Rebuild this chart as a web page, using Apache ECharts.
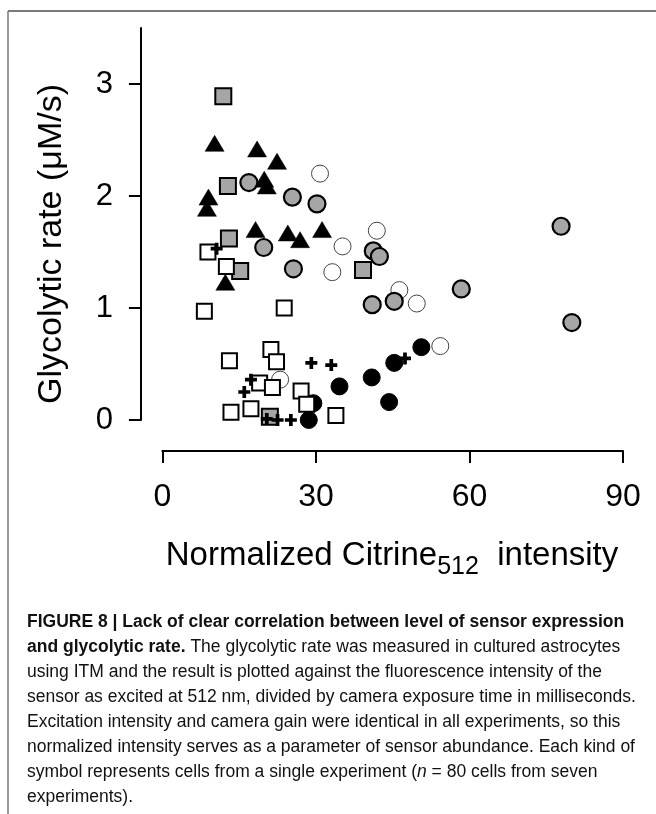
<!DOCTYPE html>
<html>
<head>
<meta charset="utf-8">
<script src="https://cdn.jsdelivr.net/npm/echarts@6/dist/echarts.min.js"></script>
<style>
html,body{margin:0;padding:0;background:#fff;}
#chart{width:656px;height:814px;}
</style>
</head>
<body>
<div id="chart"></div>
<script>
// ---- data (x: normalized Citrine512 intensity, y: glycolytic rate µM/s) ----
const xTicks = [0, 30, 60, 90];
const yTicks = [0, 1, 2, 3];
const graySquares = [[11.9,2.89],[12.8,2.09],[13.0,1.62],[15.2,1.33],[39.2,1.34],[21.0,0.03]];
const blackTriangles = [[10.2,2.47],[18.5,2.42],[22.4,2.31],[19.9,2.15],[20.4,2.09],[9.0,1.99],[8.7,1.89],[18.2,1.70],[24.5,1.67],[26.9,1.61],[31.2,1.70],[12.3,1.23]];
const grayCircles = [[16.9,2.12],[25.4,1.99],[30.2,1.93],[19.8,1.54],[25.6,1.35],[41.2,1.51],[42.4,1.46],[77.9,1.73],[58.4,1.17],[41.0,1.03],[45.3,1.06],[80.0,0.87]];
const openCircles = [[30.8,2.20],[35.2,1.55],[41.9,1.69],[33.2,1.32],[46.3,1.16],[49.7,1.04],[54.3,0.66],[23.0,0.36]];
const openSquares = [[8.9,1.50],[12.5,1.37],[8.2,0.97],[23.8,1.00],[13.1,0.53],[21.2,0.63],[22.3,0.52],[19.0,0.33],[21.5,0.29],[27.1,0.26],[28.2,0.14],[13.4,0.07],[17.3,0.10],[33.9,0.04]];
const pluses = [[10.6,1.53],[29.1,0.51],[33.0,0.49],[17.3,0.36],[16.0,0.25],[47.4,0.55],[20.4,0.01],[22.5,0.0],[25.1,0.0]];
const blackCircles = [[50.6,0.65],[45.3,0.51],[40.9,0.38],[34.6,0.30],[44.3,0.16],[29.5,0.15],[28.6,0.0]];

const yTitle = 'Glycolytic rate (\u03BCM/s)';
const captionLines = [
  '{b|FIGURE 8 | Lack of clear correlation between level of sensor expression}',
  '{b|and glycolytic rate.}{r| The glycolytic rate was measured in cultured astrocytes}',
  '{r|using ITM and the result is plotted against the fluorescence intensity of the}',
  '{r|sensor as excited at 512 nm, divided by camera exposure time in milliseconds.}',
  '{r|Excitation intensity and camera gain were identical in all experiments, so this}',
  '{r|normalized intensity serves as a parameter of sensor abundance. Each kind of}',
  '{r|symbol represents cells from a single experiment (}{i|n}{r| = 80 cells from seven}',
  '{r|experiments).}'
];

const FONT = '"Liberation Sans", Arial, Helvetica, sans-serif';
const chart = echarts.init(document.getElementById('chart'), null, {renderer: 'canvas'});

const plusPath = 'path://M4.5,0H8.5V4.5H13V8.5H8.5V13H4.5V8.5H0V4.5H4.5Z';
const GRAY = '#a6a6a6';

function sc(name, data, symbol, size, style, z) {
  return {
    type: 'scatter', name: name, data: data, symbol: symbol, symbolSize: size,
    itemStyle: Object.assign({opacity: 1}, style), z: z, silent: true, animation: false
  };
}

const CAP = 17.5;
const captionGraphics = captionLines.map((t, i) => ({
  type: 'text', left: 27, top: 629 + i * 25 - 16,
  style: {
    text: t,
    rich: {
      b: {fontFamily: FONT, fontSize: CAP, fontWeight: 'bold', fill: '#111'},
      r: {fontFamily: FONT, fontSize: CAP, fill: '#111'},
      i: {fontFamily: FONT, fontSize: CAP, fontStyle: 'italic', fill: '#111'}
    }
  }
}));

const option = {
  backgroundColor: '#ffffff',
  animation: false,
  grid: {left: 162.4, right: 33, top: 28, bottom: 394, containLabel: false},
  xAxis: {
    type: 'value', min: 0, max: 90, interval: 30,
    offset: 31,
    axisLine: {show: true, onZero: false, lineStyle: {color: '#000', width: 2}},
    axisTick: {show: true, length: 12, lineStyle: {color: '#000', width: 2}, customValues: xTicks},
    axisLabel: {margin: 30, fontFamily: FONT, fontSize: 32, color: '#000', customValues: xTicks},
    splitLine: {show: false}
  },
  yAxis: {
    type: 'value', min: 0, max: 3.5, interval: 1,
    offset: 21.5,
    axisLine: {show: true, onZero: false, lineStyle: {color: '#000', width: 2}},
    axisTick: {show: true, length: 12, lineStyle: {color: '#000', width: 2}, customValues: yTicks},
    axisLabel: {margin: 28, fontFamily: FONT, fontSize: 31, color: '#000', customValues: yTicks},
    splitLine: {show: false}
  },
  series: [
    sc('open circles', openCircles, 'circle', 17, {color: '#fff', borderColor: '#444', borderWidth: 1}, 2),
    sc('gray circles', grayCircles, 'circle', 17, {color: GRAY, borderColor: '#000', borderWidth: 2.2}, 3),
    sc('black circles', blackCircles, 'circle', 17, {color: '#000', borderColor: '#000', borderWidth: 1}, 4),
    sc('gray squares', graySquares, 'rect', 16, {color: GRAY, borderColor: '#000', borderWidth: 2}, 5),
    sc('black triangles', blackTriangles, 'triangle', [19, 16], {color: '#000', borderColor: '#000', borderWidth: 0.5}, 6),
    sc('open squares', openSquares, 'rect', 15, {color: '#fff', borderColor: '#000', borderWidth: 2}, 7),
    sc('plus', pluses, plusPath, 12, {color: '#000'}, 8)
  ],
  graphic: [
    {type: 'line', shape: {x1: 8, y1: 11, x2: 656, y2: 11}, style: {stroke: '#7a7a7a', lineWidth: 2}},
    {type: 'line', shape: {x1: 8, y1: 11, x2: 8, y2: 814}, style: {stroke: '#7a7a7a', lineWidth: 1.5}},
    {
      type: 'text', x: 52, y: 244, rotation: Math.PI / 2,
      style: {text: yTitle, fontFamily: FONT, fontSize: 34, fill: '#000', align: 'center', verticalAlign: 'middle'}
    },
    {
      type: 'text', x: 392, y: 556,
      style: {
        text: '{a|Normalized Citrine}{s|512}{a|  intensity}',
        align: 'center', verticalAlign: 'middle',
        rich: {
          a: {fontFamily: FONT, fontSize: 33, fill: '#000'},
          s: {fontFamily: FONT, fontSize: 25, fill: '#000', padding: [22, 0, 0, 0]}
        }
      }
    }
  ].concat(captionGraphics)
};
chart.setOption(option);
</script>
</body>
</html>
